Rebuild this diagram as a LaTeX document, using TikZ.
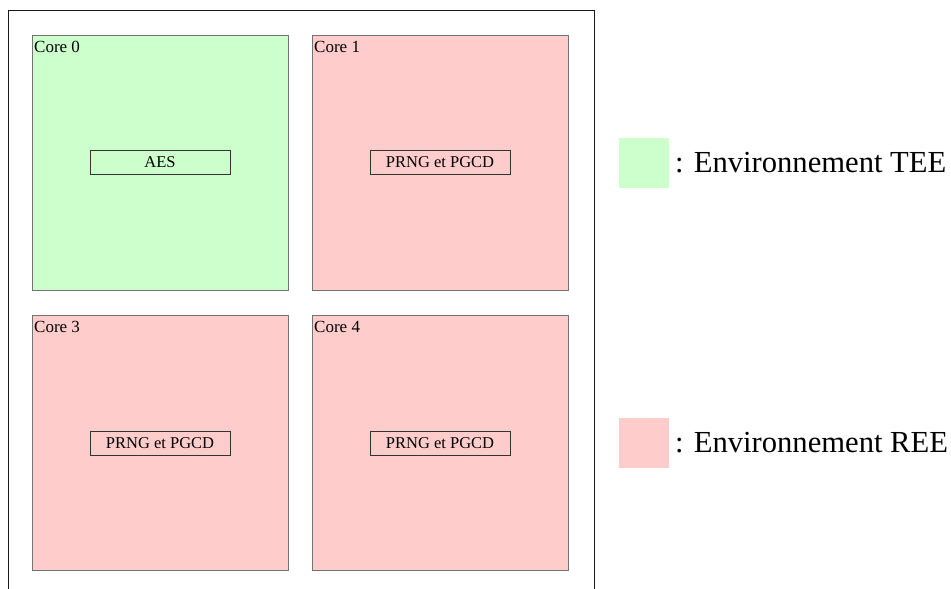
\documentclass[tikz,border=0pt]{standalone}
\usepackage{fontspec}
\setmainfont{Liberation Serif}
\definecolor{teegreen}{HTML}{CCFFCC}
\definecolor{reepink}{HTML}{FFCCCC}
\tikzset{
  core/.style={draw=black!55, line width=0.6pt, minimum width=256pt, minimum height=255pt, inner sep=0pt, outer sep=0pt},
  task/.style={draw=black!80, line width=0.8pt, minimum width=140pt, minimum height=24pt, inner sep=0pt, font=\fontsize{16.5}{19}\selectfont},
  corelabel/.style={anchor=north west, inner xsep=2pt, inner ysep=0pt, yshift=-6pt, font=\fontsize{17}{19}\selectfont},
  legendbox/.style={minimum width=50pt, minimum height=50pt, inner sep=0pt, outer sep=0pt},
  legendtext/.style={anchor=west, inner sep=0pt, font=\fontsize{30.6}{34}\selectfont}
}
\begin{document}
\begin{tikzpicture}[x=1pt,y=-1pt]
\useasboundingbox (0,0) rectangle (951,589);
\draw[line width=1pt, black!90] (8,10) rectangle (594,597);
\node[core, fill=teegreen] (c0) at (160,162.5) {};
\node[core, fill=reepink] (c1) at (440,162.5) {};
\node[core, fill=reepink] (c3) at (160,443) {};
\node[core, fill=reepink] (c4) at (440,443) {};
\node[corelabel] (l0) at (c0.north west) {Core 0};
\node[corelabel] (l1) at (c1.north west) {Core 1};
\node[corelabel] (l3) at (c3.north west) {Core 3};
\node[corelabel] (l4) at (c4.north west) {Core 4};
\node[task] (t0) at (c0.center) {AES};
\node[task] (t1) at (c1.center) {PRNG et PGCD};
\node[task] (t3) at (c3.center) {PRNG et PGCD};
\node[task] (t4) at (c4.center) {PRNG et PGCD};
\node[legendbox, fill=teegreen] (g) at (644,163) {};
\node[legendbox, fill=reepink] (p) at (644,443) {};
\node[legendtext] (gt) at ([xshift=6pt]g.east) {: Environnement TEE};
\node[legendtext] (pt) at ([xshift=6pt]p.east) {: Environnement REE};
\end{tikzpicture}
\end{document}
